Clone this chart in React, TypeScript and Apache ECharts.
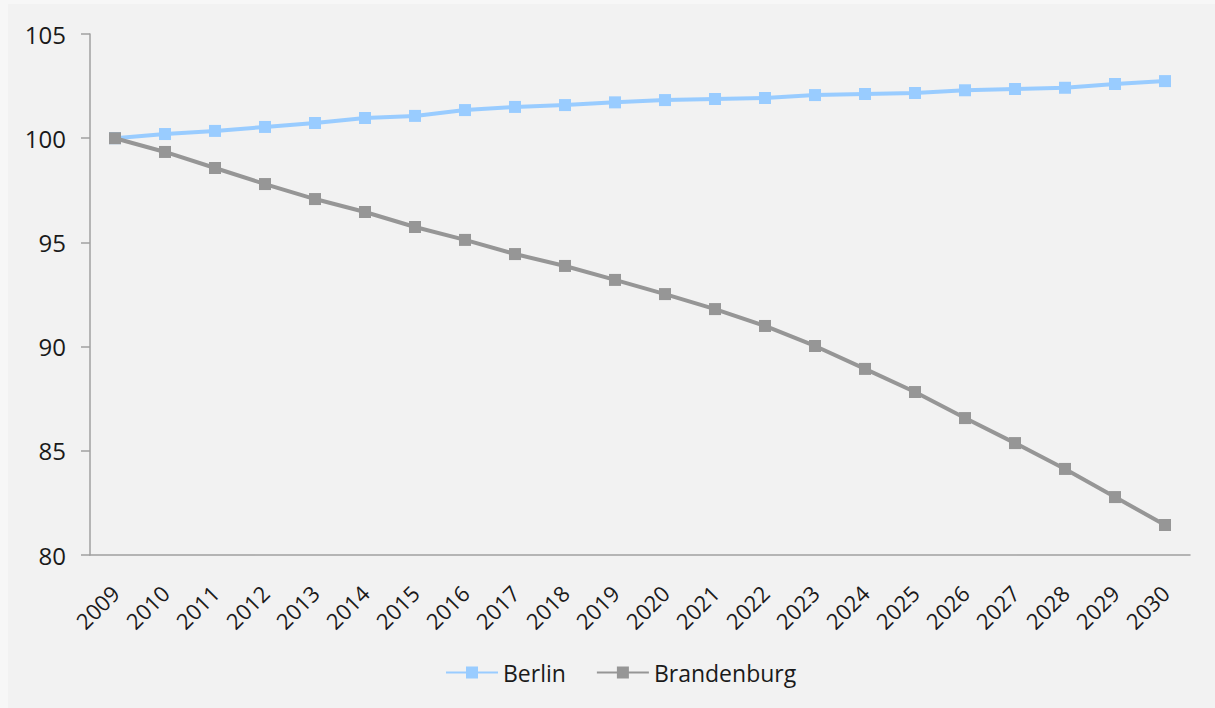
import React, { useEffect, useRef } from "react";
import * as echarts from "echarts";

const years = ["2009","2010","2011","2012","2013","2014","2015","2016","2017","2018","2019","2020","2021","2022","2023","2024","2025","2026","2027","2028","2029","2030"];
const berlin = [100, 100.2, 100.35, 100.54, 100.73, 100.97, 101.07, 101.35, 101.5, 101.59, 101.72, 101.83, 101.88, 101.93, 102.07, 102.12, 102.17, 102.3, 102.36, 102.42, 102.6, 102.74];
const brandenburg = [100, 99.34, 98.57, 97.8, 97.08, 96.46, 95.74, 95.12, 94.44, 93.87, 93.2, 92.52, 91.8, 90.99, 90.03, 88.93, 87.82, 86.57, 85.37, 84.13, 82.78, 81.44];
const yMin = 80;
const yMax = 105;
const yStep = 5;

export default function App() {
  const ref = useRef<HTMLDivElement>(null);
  useEffect(() => {
    document.body.style.margin = "4px 0 0 8px";
    document.body.style.background = "#f7f7f7";
    const chart = echarts.init(ref.current!, null, { renderer: "svg" });
    const font = "'Open Sans', 'Noto Sans', sans-serif";
    const axisColor = "#a0a0a0";
    chart.setOption({
      animation: false,
      backgroundColor: "#f2f2f2",
      textStyle: { fontFamily: font, color: "#1a1a1a" },
      grid: { left: 82, right: 25, top: 30, bottom: 153 },
      legend: {
        left: 437,
        top: 657,
        padding: 0,
        itemWidth: 52,
        itemHeight: 15,
        itemGap: 30,
        textStyle: { fontSize: 23, fontFamily: font, color: "#1a1a1a" },
        data: ["Berlin", "Brandenburg"],
      },
      xAxis: {
        type: "category",
        data: years,
        boundaryGap: true,
        axisLine: { lineStyle: { color: axisColor, width: 1.5 } },
        axisTick: { length: 9, lineStyle: { color: axisColor, width: 1.5 } },
        axisLabel: { rotate: 45, fontSize: 22, margin: 34, color: "#1a1a1a", interval: 0 },
      },
      yAxis: {
        type: "value",
        min: yMin,
        max: yMax,
        interval: yStep,
        splitLine: { show: false },
        axisLine: { show: true, lineStyle: { color: axisColor, width: 1.5 } },
        axisTick: { show: true, length: 9, lineStyle: { color: axisColor, width: 1.5 } },
        axisLabel: { fontSize: 24, margin: 24, color: "#1a1a1a" },
      },
      series: [
        {
          name: "Berlin",
          type: "line",
          data: berlin,
          symbol: "rect",
          symbolSize: 12,
          lineStyle: { color: "#99ccff", width: 4 },
          itemStyle: { color: "#99ccff" },
        },
        {
          name: "Brandenburg",
          type: "line",
          data: brandenburg,
          symbol: "rect",
          symbolSize: 12,
          lineStyle: { color: "#969696", width: 4 },
          itemStyle: { color: "#969696" },
        },
      ],
    });
    return () => chart.dispose();
  }, []);
  return <div ref={ref} style={{ width: 1207, height: 704 }} />;
}
